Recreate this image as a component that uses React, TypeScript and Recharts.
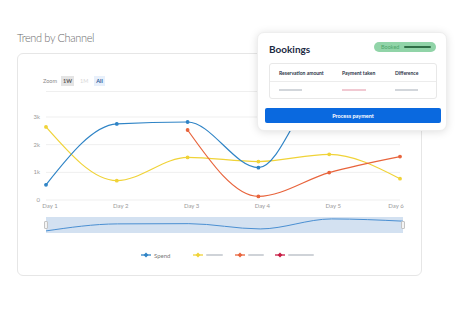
import React from 'react'
import { LineChart, Line, XAxis, YAxis, CartesianGrid } from 'recharts'

const days = ['Day 1', 'Day 2', 'Day 3', 'Day 4', 'Day 5', 'Day 6']
const spend = [550, 2750, 2820, 1170, 4300, 3600]
const channelB = [2640, 700, 1540, 1390, 1650, 770]
const channelC = [null, null, 2530, 130, 990, 1570]
const yTicks = [0, 1000, 2000, 3000]

const BLUE = '#2f84c6'
const YELLOW = '#f0d338'
const ORANGE = '#e8643c'
const CRIMSON = '#c81c44'

const data = days.map((d, i) => ({ day: d, spend: spend[i], b: channelB[i], c: channelC[i] }))

const fmtK = (v: number) => (v === 0 ? '0' : `${v / 1000}k`)

const XTick = (props: any) => {
  const { x, y, payload, index } = props
  const last = index === days.length - 1
  return (
    <text x={x + (last ? -4 : 4)} y={y} dy="0.71em" textAnchor="middle" fontSize={6} fill="#9a9a9a">
      {payload.value}
    </text>
  )
}

const LegendItem = ({ x, color, label, barWidth }: { x: number; color: string; label?: string; barWidth?: number }) => (
  <div style={{ position: 'absolute', left: x, top: 251, display: 'flex', alignItems: 'center', height: 8 }}>
    <svg width={10} height={8}>
      <line x1={0} y1={4} x2={10} y2={4} stroke={color} strokeWidth={1.3} />
      <path d="M5 1.6 L7.4 4 L5 6.4 L2.6 4 Z" fill={color} />
    </svg>
    {label ? (
      <span style={{ fontSize: 6, color: '#7a7a7a', marginLeft: 3 }}>{label}</span>
    ) : (
      <span style={{ width: barWidth, height: 2, background: '#cfd3d8', marginLeft: 3, borderRadius: 1 }} />
    )}
  </div>
)

export default function App() {
  return (
    <div style={{ position: 'absolute', left: 0, top: 0, width: 465, height: 309, background: '#fff', fontFamily: 'Lato, sans-serif', overflow: 'hidden' }}>
      <div style={{ position: 'absolute', left: 17, top: 31.5, fontSize: 11, lineHeight: '11px', letterSpacing: -0.35, color: '#6b6b6b', fontWeight: 300 }}>
        Trend by Channel
      </div>

      {/* card */}
      <div style={{ position: 'absolute', left: 17, top: 53, width: 405, height: 223, border: '1px solid #e6e6e6', borderRadius: 6, boxSizing: 'border-box' }} />

      {/* zoom row */}
      <div style={{ position: 'absolute', left: 43, top: 76, height: 9, display: 'flex', alignItems: 'center', fontSize: 5.5, color: '#8a8a8a' }}>
        <span style={{ marginRight: 4 }}>Zoom</span>
        <span style={{ background: '#e4e4e4', color: '#555', padding: '2px 2px', marginRight: 4, fontWeight: 700 }}>1W</span>
        <span style={{ color: '#d8d8d8', padding: '2px 2px', marginRight: 4 }}>1M</span>
        <span style={{ background: '#e8f0fb', color: '#2c5a9a', padding: '2px 2px', fontWeight: 700 }}>All</span>
      </div>
      <div style={{ position: 'absolute', left: 46, top: 91, width: 356, height: 1, background: '#efefef' }} />

      <div style={{ position: 'absolute', left: 0, top: 0 }}>
        <LineChart width={465} height={309} data={data} margin={{ top: 117, right: 65, bottom: 89, left: 16 }}>
          <CartesianGrid vertical={false} stroke="#efefef" />
          <XAxis dataKey="day" axisLine={false} tickLine={false} tickSize={0} tickMargin={4} interval={0} height={20} tick={<XTick />} padding={{ left: 0, right: 0 }} />
          <YAxis domain={[0, 3000]} ticks={yTicks} allowDataOverflow axisLine={false} tickLine={false} tickSize={0} tickMargin={6} width={30} tickFormatter={fmtK} tick={{ fontSize: 6, fill: '#9a9a9a' }} />
          <Line type="monotone" dataKey="b" stroke={YELLOW} strokeWidth={1.2} dot={{ r: 1.3, fill: YELLOW, stroke: YELLOW }} isAnimationActive={false} />
          <Line type="monotone" dataKey="c" stroke={ORANGE} strokeWidth={1.2} dot={{ r: 1.3, fill: ORANGE, stroke: ORANGE }} isAnimationActive={false} connectNulls={false} />
          <Line type="monotone" dataKey="spend" stroke={BLUE} strokeWidth={1.2} dot={{ r: 1.3, fill: BLUE, stroke: BLUE }} isAnimationActive={false} />
        </LineChart>
      </div>

      {/* navigator */}
      <div style={{ position: 'absolute', left: 46, top: 217, width: 357, height: 16, background: '#d3e1f1' }}>
        <LineChart width={357} height={16} data={data} margin={{ top: 0, right: 0, bottom: 0, left: 0 }}>
          <XAxis dataKey="day" hide padding={{ left: 0, right: 0 }} />
          <YAxis hide domain={[-100, 4900]} />
          <Line type="monotone" dataKey="spend" stroke="#4a8fd2" strokeWidth={1} dot={false} isAnimationActive={false} />
        </LineChart>
      </div>
      <div style={{ position: 'absolute', left: 44, top: 221, width: 4, height: 8, background: '#f4f4f4', border: '1px solid #c4c4c4', boxSizing: 'border-box', borderRadius: 1 }} />
      <div style={{ position: 'absolute', left: 401, top: 221, width: 4, height: 8, background: '#f4f4f4', border: '1px solid #c4c4c4', boxSizing: 'border-box', borderRadius: 1 }} />

      {/* legend */}
      <LegendItem x={141} color={BLUE} label="Spend" />
      <LegendItem x={193} color={YELLOW} barWidth={17} />
      <LegendItem x={235} color={ORANGE} barWidth={16} />
      <LegendItem x={275} color={CRIMSON} barWidth={26} />

      {/* bookings popup */}
      <div style={{ position: 'absolute', left: 257, top: 32, width: 190, height: 99, background: '#fff', borderRadius: 7, boxShadow: '0 1px 8px rgba(0,0,0,0.13)', border: '1px solid #eeeeee', boxSizing: 'border-box' }}>
        <div style={{ position: 'absolute', left: 11, top: 10.5, fontSize: 10, lineHeight: '10px', fontWeight: 700, color: '#1b2a44' }}>Bookings</div>
        <div style={{ position: 'absolute', left: 116, top: 9, width: 62, height: 10, borderRadius: 5, background: '#91d4a8', display: 'flex', alignItems: 'center' }}>
          <span style={{ fontSize: 5.5, color: '#4da56b', marginLeft: 7 }}>Booked</span>
          <span style={{ width: 27, height: 2, background: '#2f6e46', marginLeft: 5, borderRadius: 1 }} />
        </div>
        <div style={{ position: 'absolute', left: 11, top: 30, width: 168, height: 36, border: '1px solid #e8e8e8', borderRadius: 3, boxSizing: 'border-box' }}>
          <div style={{ position: 'absolute', left: 0, top: 17, width: '100%', height: 1, background: '#ececec' }} />
          <div style={{ position: 'absolute', left: 9, top: 6, fontSize: 5, fontWeight: 700, color: '#2a3448' }}>Reservation amount</div>
          <div style={{ position: 'absolute', left: 72, top: 6, fontSize: 5, fontWeight: 700, color: '#2a3448' }}>Payment taken</div>
          <div style={{ position: 'absolute', left: 125, top: 6, fontSize: 5, fontWeight: 700, color: '#2a3448' }}>Difference</div>
          <div style={{ position: 'absolute', left: 9, top: 25, width: 23, height: 2, background: '#d2d6db' }} />
          <div style={{ position: 'absolute', left: 72, top: 25, width: 24, height: 2, background: '#f1c9d2' }} />
          <div style={{ position: 'absolute', left: 125, top: 25, width: 23, height: 2, background: '#d2d6db' }} />
        </div>
        <div style={{ position: 'absolute', left: 7, top: 75, width: 176, height: 15, borderRadius: 2, background: '#0a69df', color: '#fff', fontSize: 5.5, fontWeight: 700, display: 'flex', alignItems: 'center', justifyContent: 'center' }}>
          Process payment
        </div>
      </div>
    </div>
  )
}
